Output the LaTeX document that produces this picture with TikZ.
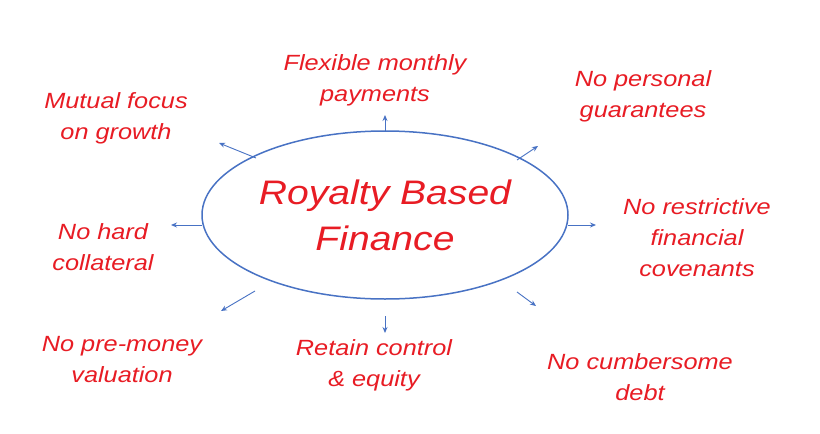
\documentclass[tikz,border=0pt]{standalone}
\usepackage{fontspec}
\setmainfont[FakeStretch=1.15]{Liberation Sans}
\usetikzlibrary{shapes.geometric,arrows.meta}
\definecolor{txtred}{RGB}{232,28,36}
\definecolor{ellblue}{RGB}{72,114,196}
\begin{document}
\begin{tikzpicture}[x=1pt,y=-1pt,
  lbl/.style={text=txtred,font=\itshape\fontsize{22}{31}\selectfont,align=center},
  conn/.style={draw=ellblue,line width=0.9pt,-{Stealth[length=6pt,width=5pt]}}]
\useasboundingbox[fill=white] (0,0) rectangle (820,434);
\node[ellipse,draw=ellblue,line width=1.5pt,minimum width=366pt,minimum height=168pt,
  text=txtred,font=\itshape\fontsize{34}{46}\selectfont,align=center] (c) at (385,215) {Royalty Based\\Finance};
\coordinate (s1) at (385,131); \coordinate (e1) at (385,115);
\coordinate (s2) at (517,160); \coordinate (e2) at (538,146);
\coordinate (s3) at (568,225); \coordinate (e3) at (596,225);
\coordinate (s4) at (517,292); \coordinate (e4) at (536,306);
\coordinate (s5) at (385,316); \coordinate (e5) at (385,333);
\coordinate (s6) at (255,291); \coordinate (e6) at (221,311);
\coordinate (s7) at (202,225); \coordinate (e7) at (171,225);
\coordinate (s8) at (256,158); \coordinate (e8) at (219,143);
\foreach \i in {1,...,8} \draw[conn] (s\i) -- (e\i);
\node[lbl] (t1) at (375,80) {Flexible monthly\\payments};
\node[lbl] (t2) at (643,96) {No personal\\guarantees};
\node[lbl] (t3) at (116,118) {Mutual focus\\on growth};
\node[lbl] (t4) at (103,247) {No hard\\collateral};
\node[lbl] (t5) at (697,238) {No restrictive\\financial\\covenants};
\node[lbl] (t6) at (122,360) {No pre-money\\valuation};
\node[lbl] (t7) at (374,365) {Retain control\\\& equity};
\node[lbl] (t8) at (640,377) {No cumbersome\\debt};
\end{tikzpicture}
\end{document}
